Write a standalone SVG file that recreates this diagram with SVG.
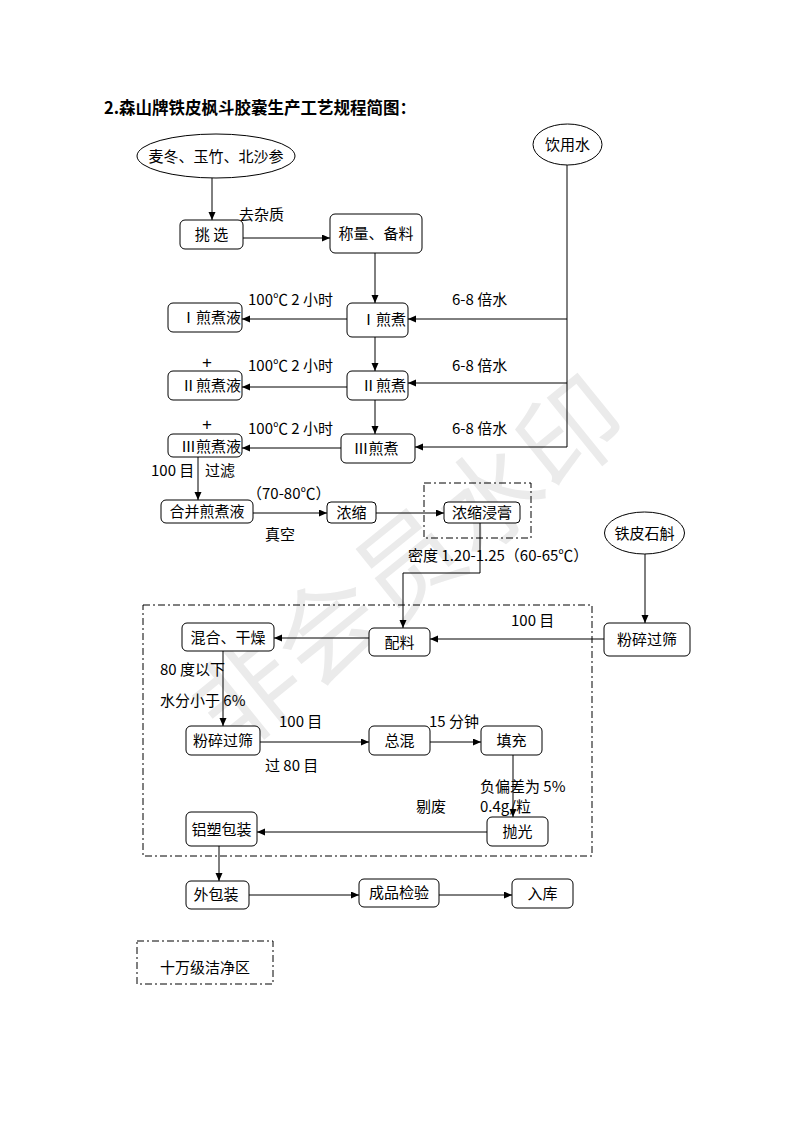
<svg xmlns="http://www.w3.org/2000/svg" width="793" height="1122" viewBox="0 0 793 1122">
<style>
text{font-family:"Noto Sans CJK SC","Liberation Sans",sans-serif;font-size:15px;fill:#000}
.title{font-size:16.5px;font-weight:bold}
.c{text-anchor:middle}
.e{text-anchor:end}
.plus{font-size:17px;text-anchor:middle;font-family:"Liberation Sans",sans-serif}
.box{fill:#fff;stroke:#000;stroke-width:1}
.conn path{fill:none;stroke:#000;stroke-width:1}
.dd{fill:none;stroke:#000;stroke-width:1;stroke-dasharray:7 3 2 3}
.wm{font-size:104px;fill:#ebebeb;text-anchor:middle}
</style>
<defs>
<marker id="ah" markerUnits="userSpaceOnUse" markerWidth="9" markerHeight="8" refX="8" refY="3.5" orient="auto">
<path d="M0,0 L8,3.5 L0,7 z" fill="#000"/>
</marker>
</defs>
<rect width="793" height="1122" fill="#fff"/>
<text class="wm" transform="translate(410,565) rotate(-39)" dy="36">非会员水印</text>

<text class="title" x="104" y="114">2.森山牌铁皮枫斗胶囊生产工艺规程简图：</text>

<rect class="dd" x="424" y="483" width="107" height="55"/>
<rect class="dd" x="143" y="605" width="449" height="251"/>

<g class="conn">
<path d="M212,178 V220" marker-end="url(#ah)"/>
<path d="M243,238 H330" marker-end="url(#ah)"/>
<path d="M375,253 V303" marker-end="url(#ah)"/>
<path d="M347,319 H242" marker-end="url(#ah)"/>
<path d="M567,319 H408" marker-end="url(#ah)"/>
<path d="M375,337 V371" marker-end="url(#ah)"/>
<path d="M347,387 H242" marker-end="url(#ah)"/>
<path d="M567,383 H408" marker-end="url(#ah)"/>
<path d="M375,400 V434" marker-end="url(#ah)"/>
<path d="M341,448 H242" marker-end="url(#ah)"/>
<path d="M567,447 H415" marker-end="url(#ah)"/>
<path d="M567,165 V447"/>
<path d="M198,457 V500" marker-end="url(#ah)"/>
<path d="M253,513 H327" marker-end="url(#ah)"/>
<path d="M376,513 H444" marker-end="url(#ah)"/>
<path d="M480,523 V573 H403 V628" marker-end="url(#ah)"/>
<path d="M645,554 V623" marker-end="url(#ah)"/>
<path d="M604,639 H430" marker-end="url(#ah)"/>
<path d="M369,638 H274" marker-end="url(#ah)"/>
<path d="M223,651 V726" marker-end="url(#ah)"/>
<path d="M260,742 H369" marker-end="url(#ah)"/>
<path d="M430,742 H481" marker-end="url(#ah)"/>
<path d="M513,755 V817" marker-end="url(#ah)"/>
<path d="M487,832 H257" marker-end="url(#ah)"/>
<path d="M219,846 V881" marker-end="url(#ah)"/>
<path d="M249,895 H359" marker-end="url(#ah)"/>
<path d="M439,895 H512" marker-end="url(#ah)"/>
</g>

<g id="n-herbs"><ellipse class="box" cx="216" cy="156" rx="79" ry="22"/><text class="c" x="216" y="162">麦冬、玉竹、北沙参</text></g>
<g id="n-water"><ellipse class="box" cx="567.5" cy="144.5" rx="34.5" ry="20.5"/><text class="c" x="567.5" y="150">饮用水</text></g>
<g id="n-pick"><rect class="box" x="180" y="220" width="63" height="29" rx="5"/><text class="c" x="211.5" y="240">挑 选</text></g>
<g id="n-weigh"><rect class="box" x="330" y="214" width="92" height="39" rx="5"/><text class="c" x="376" y="239">称量、备料</text></g>
<g id="n-d1"><rect class="box" x="347" y="303" width="61" height="34" rx="5"/><text class="e" x="406" y="325">Ⅰ煎煮</text></g>
<g id="n-l1"><rect class="box" x="168" y="303" width="74" height="29" rx="5"/><text class="e" x="241" y="323">Ⅰ煎煮液</text></g>
<g id="n-d2"><rect class="box" x="347" y="371" width="61" height="29" rx="5"/><text class="e" x="406" y="391">Ⅱ煎煮</text></g>
<g id="n-l2"><rect class="box" x="168" y="371" width="74" height="29" rx="5"/><text class="e" x="241" y="391">Ⅱ煎煮液</text></g>
<g id="n-d3"><rect class="box" x="341" y="434" width="74" height="29" rx="5"/><text class="c" x="376" y="454">Ⅲ煎煮</text></g>
<g id="n-l3"><rect class="box" x="168" y="434" width="74" height="23" rx="5"/><text class="e" x="241" y="452">Ⅲ煎煮液</text></g>
<g id="n-merge"><rect class="box" x="161" y="500" width="92" height="23" rx="5"/><text class="c" x="207" y="517">合并煎煮液</text></g>
<g id="n-conc"><rect class="box" x="327" y="502" width="49" height="21" rx="4"/><text class="c" x="351.5" y="518">浓缩</text></g>
<g id="n-ext"><rect class="box" x="444" y="502" width="76" height="21" rx="4"/><text class="c" x="482" y="518">浓缩浸膏</text></g>
<g id="n-dend"><ellipse class="box" cx="644.5" cy="533" rx="40" ry="21"/><text class="c" x="644.5" y="539">铁皮石斛</text></g>
<g id="n-crush1"><rect class="box" x="604" y="623" width="86" height="33" rx="5"/><text class="c" x="647" y="645">粉碎过筛</text></g>
<g id="n-mixing"><rect class="box" x="369" y="628" width="61" height="28" rx="5"/><text class="c" x="399.5" y="648">配料</text></g>
<g id="n-dry"><rect class="box" x="182" y="623" width="92" height="28" rx="5"/><text class="c" x="228" y="643">混合、干燥</text></g>
<g id="n-crush2"><rect class="box" x="186" y="726" width="74" height="29" rx="5"/><text class="c" x="223" y="746">粉碎过筛</text></g>
<g id="n-total"><rect class="box" x="369" y="726" width="61" height="29" rx="5"/><text class="c" x="399.5" y="746">总混</text></g>
<g id="n-fill"><rect class="box" x="481" y="726" width="61" height="29" rx="5"/><text class="c" x="511.5" y="746">填充</text></g>
<g id="n-polish"><rect class="box" x="487" y="817" width="61" height="29" rx="5"/><text class="c" x="517.5" y="837">抛光</text></g>
<g id="n-blister"><rect class="box" x="186" y="812" width="71" height="34" rx="5"/><text class="c" x="221.5" y="835">铝塑包装</text></g>
<g id="n-outer"><rect class="box" x="186" y="881" width="63" height="28" rx="5"/><text class="c" x="216" y="900">外包装</text></g>
<g id="n-qc"><rect class="box" x="359" y="879" width="80" height="28" rx="5"/><text class="c" x="399" y="898">成品检验</text></g>
<g id="n-store"><rect class="box" x="512" y="879" width="61" height="29" rx="5"/><text class="c" x="542.5" y="899">入库</text></g>
<g id="legend"><rect class="dd" x="137" y="941" width="136" height="43"/><text x="160" y="973">十万级洁净区</text></g>

<g id="labels">
<text x="239" y="220">去杂质</text>
<text x="248" y="305">100℃ 2 小时</text>
<text x="452" y="305">6-8 倍水</text>
<text class="plus" x="207" y="368">+</text>
<text x="248" y="371">100℃ 2 小时</text>
<text x="452" y="371">6-8 倍水</text>
<text class="plus" x="207" y="430">+</text>
<text x="248" y="434">100℃ 2 小时</text>
<text x="452" y="434">6-8 倍水</text>
<text x="151" y="476">100 目</text>
<text x="205" y="476">过滤</text>
<text x="247" y="499">（70-80℃）</text>
<text x="265" y="540">真空</text>
<text x="408" y="561">密度 1.20-1.25（60-65℃）</text>
<text x="511" y="626">100 目</text>
<text x="160" y="675">80 度以下</text>
<text x="160" y="706">水分小于 6%</text>
<text x="279" y="727">100 目</text>
<text x="429" y="727">15 分钟</text>
<text x="265" y="771">过 80 目</text>
<text x="480" y="792">负偏差为 5%</text>
<text x="416" y="812">剔废</text>
<text x="480" y="812">0.4g/粒</text>
</g>
</svg>
